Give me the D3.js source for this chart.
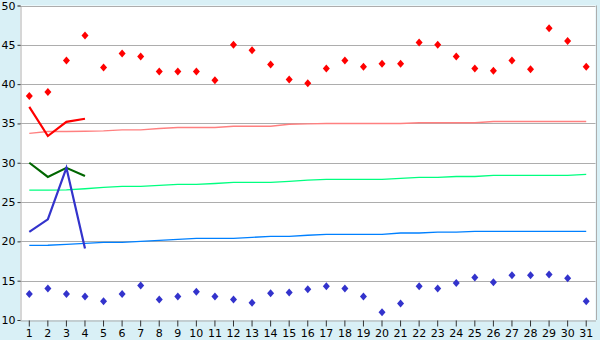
<!DOCTYPE html>
<html><head><meta charset="utf-8">
<script src="https://cdn.jsdelivr.net/npm/d3@7/dist/d3.min.js"></script>
<style>body{margin:0;background:#d9f0f6;}svg{display:block;}</style>
</head><body>
<svg id="c" width="600" height="340"></svg>
<script>
const days = d3.range(1, 32);
const yTicks = [10, 15, 20, 25, 30, 35, 40, 45, 50];
const maxTemps = [38.5, 39.0, 43.0, 46.2, 42.1, 43.9, 43.5, 41.6, 41.6, 41.6, 40.5, 45.0, 44.3, 42.5, 40.6, 40.1, 42.0, 43.0, 42.2, 42.6, 42.6, 45.3, 45.0, 43.5, 42.0, 41.7, 43.0, 41.9, 47.1, 45.5, 42.2];
const minTemps = [13.3, 14.0, 13.3, 13.0, 12.4, 13.3, 14.4, 12.6, 13.0, 13.6, 13.0, 12.6, 12.2, 13.4, 13.5, 13.9, 14.3, 14.0, 13.0, 11.0, 12.1, 14.3, 14.0, 14.7, 15.4, 14.8, 15.7, 15.7, 15.8, 15.3, 12.4];
const normMax = [33.73, 33.98, 33.98, 34.0, 34.06, 34.18, 34.18, 34.36, 34.49, 34.49, 34.49, 34.65, 34.65, 34.65, 34.9, 34.95, 35.0, 35.0, 35.0, 35.0, 35.0, 35.08, 35.08, 35.08, 35.08, 35.25, 35.25, 35.25, 35.25, 35.25, 35.25];
const normMean = [26.52, 26.52, 26.55, 26.69, 26.87, 27.0, 27.0, 27.12, 27.25, 27.25, 27.37, 27.5, 27.5, 27.5, 27.63, 27.79, 27.88, 27.88, 27.88, 27.88, 28.01, 28.14, 28.14, 28.26, 28.26, 28.39, 28.39, 28.39, 28.39, 28.39, 28.52];
const normMin = [19.49, 19.5, 19.62, 19.75, 19.87, 19.87, 20.0, 20.13, 20.26, 20.38, 20.38, 20.38, 20.51, 20.64, 20.64, 20.77, 20.89, 20.89, 20.89, 20.89, 21.06, 21.06, 21.18, 21.18, 21.27, 21.27, 21.27, 21.27, 21.27, 21.27, 21.27];
const curDays = [1, 2, 3, 4];
const curMax = [37.1, 33.4, 35.2, 35.6];
const curMean = [30.0, 28.2, 29.35, 28.3];
const curMin = [21.2, 22.8, 29.35, 19.1];

const L = 20, R = 595.5, T = 5.5, B = 320;
const svg = d3.select("#c");
svg.append("rect").attr("width", 600).attr("height", 340).attr("fill", "#d9f0f6");
svg.append("rect").attr("x", L).attr("y", T).attr("width", R - L).attr("height", B - T).attr("fill", "#fff");

const x = d3.scaleBand().domain(days).range([L, R]).padding(0);
const cx = d => x(d) + x.bandwidth() / 2;
const y = d3.scaleLinear().domain([10, 50]).range([B, T]);

// grid
svg.append("g").selectAll("line").data(yTicks.filter(t => t > 10)).join("line")
  .attr("x1", L).attr("x2", R).attr("y1", d => Math.round(y(d)) + 0.5).attr("y2", d => Math.round(y(d)) + 0.5)
  .attr("stroke", "#adadad").attr("stroke-width", 1);
// right border
svg.append("line").attr("x1", Math.round(R) + 0.5).attr("x2", Math.round(R) + 0.5).attr("y1", T).attr("y2", B)
  .attr("stroke", "#adadad");

// axes
const yAxis = d3.axisLeft(y).tickValues(yTicks).tickSize(3).tickPadding(2).tickFormat(d3.format("d"));
const gy = svg.append("g").attr("transform", `translate(${L + 0.5},0)`).call(yAxis);
gy.select(".domain").attr("stroke", "#adadad");
gy.selectAll(".tick line").attr("stroke", "#333");
gy.selectAll("text").attr("font-family", "DejaVu Sans, Verdana, sans-serif").attr("font-size", 11).attr("fill", "#000");

const xAxis = d3.axisBottom(x).tickSize(6).tickPadding(3).tickSizeOuter(0);
const gx = svg.append("g").attr("transform", `translate(0,${B + 0.5})`).call(xAxis);
gx.select(".domain").attr("stroke", "#adadad");
gx.selectAll(".tick line").attr("stroke", "#333");
gx.selectAll("text").attr("font-family", "DejaVu Sans, Verdana, sans-serif").attr("font-size", 11).attr("fill", "#000");

// normal lines
const line = d3.line().x(d => cx(d[0])).y(d => y(d[1]));
const addLine = (xs, vs, color, w) => svg.append("path")
  .datum(xs.map((d, i) => [d, vs[i]])).attr("d", line)
  .attr("fill", "none").attr("stroke", color).attr("stroke-width", w);
addLine(days, normMax, "#ff8080", 1.4);
addLine(days, normMean, "#00ff80", 1.4);
addLine(days, normMin, "#0080ff", 1.4);

addLine(curDays, curMax, "#ff0000", 2.2);
addLine(curDays, curMean, "#006600", 2.2);
addLine(curDays, curMin, "#3333cc", 2.2);

// diamonds
const diamond = "M0,-4L3.5,0L0,4L-3.5,0Z";
svg.append("g").selectAll("path").data(days).join("path")
  .attr("transform", (d, i) => `translate(${cx(d)},${y(maxTemps[i])})`).attr("d", diamond).attr("fill", "#ff0000");
svg.append("g").selectAll("path").data(days).join("path")
  .attr("transform", (d, i) => `translate(${cx(d)},${y(minTemps[i])})`).attr("d", diamond).attr("fill", "#3333cc");
</script>
</body></html>
